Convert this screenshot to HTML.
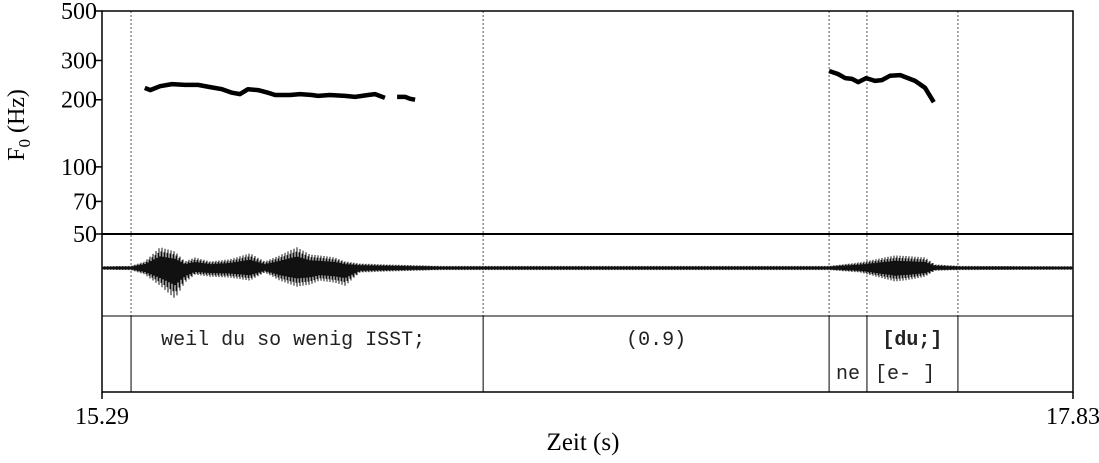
<!DOCTYPE html>
<html><head><meta charset="utf-8"><style>
body{margin:0;background:#fff}
svg text{font-family:"Liberation Serif",serif}
.mono{font-family:"Liberation Mono",monospace}
</style></head><body>
<svg id="c" width="1099" height="458" xmlns="http://www.w3.org/2000/svg"></svg>
<script>
const yTicks=[500,300,200,100,70,50];
const f0Seg1T=[15.402,15.416,15.442,15.473,15.507,15.541,15.573,15.604,15.630,15.651,15.672,15.698,15.724,15.743,15.782,15.808,15.839,15.855,15.886,15.926,15.952,15.986,16.004,16.030];
const f0Seg1Hz=[226,221,230,235,233,233,228,223,215,212,223,221,215,210,210,212,210,208,210,208,206,210,212,204];
const f0Seg2T=[16.062,16.083,16.096,16.109];
const f0Seg2Hz=[206,206,202,200];
const f0Seg3T=[17.192,17.215,17.234,17.252,17.268,17.289,17.312,17.330,17.351,17.378,17.417,17.443,17.466];
const f0Seg3Hz=[269,261,250,248,240,250,243,245,256,258,243,226,195];
const waveT=[15.29,15.366,15.402,15.442,15.481,15.507,15.533,15.573,15.625,15.677,15.716,15.755,15.800,15.834,15.860,15.899,15.926,15.965,16.030,16.174,17.192,17.273,17.365,17.404,17.443,17.469,17.535,17.83];
const waveUp=[0.04,0.05,0.2,0.67,0.53,0.2,0.33,0.2,0.27,0.47,0.2,0.4,0.67,0.43,0.4,0.33,0.2,0.13,0.1,0.05,0.05,0.17,0.4,0.37,0.33,0.1,0.05,0.04];
const waveLo=[0.04,0.05,0.2,0.57,1.0,0.47,0.2,0.27,0.3,0.4,0.13,0.4,0.6,0.53,0.4,0.47,0.57,0.13,0.1,0.05,0.05,0.13,0.43,0.37,0.27,0.07,0.05,0.04];
const bounds=[15.366,16.287,17.192,17.291,17.529];
const xMin=15.29,xMax=17.83;
const L=102,R=1073,T=11,Y50=234,W2=316,B=392,WC=268;
const x=t=>L+(t-xMin)/(xMax-xMin)*(R-L);
const y=f=>T+(Y50-T)*Math.log10(500/f);
const svg=document.getElementById('c');
const NS='http://www.w3.org/2000/svg';
function mk(tag,attrs,txt){const e=document.createElementNS(NS,tag);for(const k in attrs)e.setAttribute(k,attrs[k]);if(txt!=null)e.textContent=txt;svg.appendChild(e);return e;}
bounds.forEach((b,i)=>{
 const l=mk('line',{x1:x(b),x2:x(b),y1:T,y2:W2,stroke:'#555','stroke-width':1,'stroke-dasharray':'2,2'});
 
 
 const s=mk('line',{x1:x(b),x2:x(b),y1:W2,y2:B,stroke:'#000','stroke-width':1});
 
 
});
let f=mk('rect',{x:L,y:T,width:R-L,height:B-T,fill:'none',stroke:'#000','stroke-width':1.5});

let d1=mk('line',{x1:L,x2:R,y1:Y50,y2:Y50,stroke:'#000','stroke-width':2});

let d2=mk('line',{x1:L,x2:R,y1:W2,y2:W2,stroke:'#000','stroke-width':1});

yTicks.forEach(v=>{
 const tk=mk('line',{x1:L-6,x2:L,y1:y(v),y2:y(v),stroke:'#000','stroke-width':1.5});
 
 const tl=mk('text',{x:L-5,y:y(v)+8,'text-anchor':'end','font-size':24},v);
 
});
let yt=mk('text',{transform:'translate(24,125) rotate(-90)','text-anchor':'middle','font-size':24});
yt.innerHTML='F<tspan font-size="17" dy="6">0</tspan><tspan dy="-6"> (Hz)</tspan>';

[[f0Seg1T,f0Seg1Hz],[f0Seg2T,f0Seg2Hz],[f0Seg3T,f0Seg3Hz]].forEach((s,i)=>{
 const p=s[0].map((t,j)=>x(t).toFixed(1)+','+y(s[1][j]).toFixed(1)).join(' ');
 const pl=mk('polyline',{points:p,fill:'none',stroke:'#000','stroke-width':4.5,'stroke-linejoin':'round'});
 
});
function interp(arr,t){for(let j=0;j<waveT.length-1;j++){if(t>=waveT[j]&&t<=waveT[j+1]){const r=(t-waveT[j])/(waveT[j+1]-waveT[j]);return arr[j]+(arr[j+1]-arr[j])*r;}}return 0;}
let dpath='';
for(let px=L;px<=R;px+=1){
 const t=xMin+(px-L)/(R-L)*(xMax-xMin);
 const k=(px%3===0)?1:(px%3===1?0.55:0.8);
 const u=interp(waveUp,t)*30*k, lw=interp(waveLo,t)*30*k;
 dpath+='M'+px+','+(WC-u-0.6).toFixed(1)+'V'+(WC+lw+0.6).toFixed(1);
}
let wp=mk('path',{d:dpath,stroke:'#111','stroke-width':1,fill:'none'});

[[xMin,'15.29'],[xMax,'17.83']].forEach(a=>{
 const tk=mk('line',{x1:x(a[0]),x2:x(a[0]),y1:B,y2:B+7,stroke:'#000','stroke-width':1.5});
 
 const tl=mk('text',{x:x(a[0]),y:424,'text-anchor':'middle','font-size':24},a[1]);
 
});
let xt=mk('text',{x:583,y:450,'text-anchor':'middle','font-size':25},'Zeit (s)');

const tiers=[['weil du so wenig ISST;',x(bounds[0]),x(bounds[1])-28,345,'normal','tier-text-weil'],
['(0.9)',x(bounds[1]),x(bounds[2]),345,'normal','tier-text-pause'],
['[du;]',x(bounds[3]),x(bounds[4]),345,'bold','tier-text-du'],
['ne',x(bounds[2]),x(bounds[3]),379,'normal','tier-text-ne']];
tiers.forEach(a=>{
 const t=mk('text',{x:(a[1]+a[2])/2,y:a[3],'text-anchor':'middle','font-size':20,'font-weight':a[4],fill:'#222',class:'mono'},a[0]);
 
});
let e=mk('text',{x:x(bounds[3])+8,y:379,'font-size':20,fill:'#222',class:'mono','xml:space':'preserve'},'[e-  ]');

</script>
</body></html>
